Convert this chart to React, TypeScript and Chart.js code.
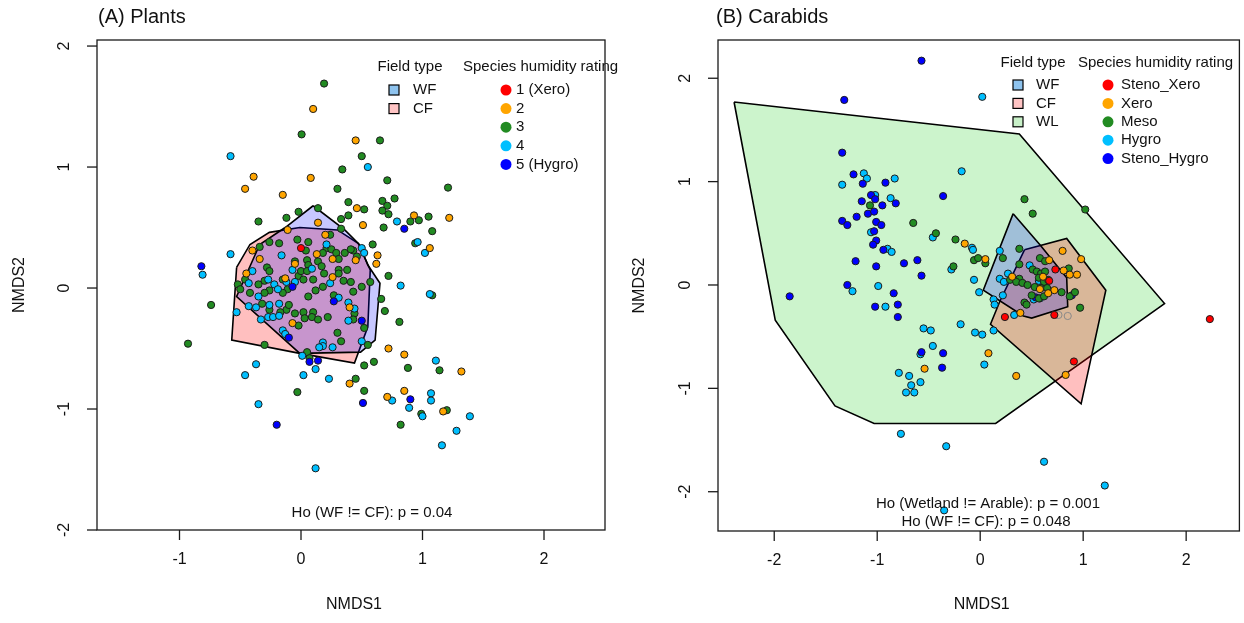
import React, { useEffect, useRef } from "react";
import { Chart, registerables } from "chart.js";

Chart.register(...registerables);

type P = [number, number];

// ---------- shared axis / legend text ----------
const yTicks = [-2, -1, 0, 1, 2];
const plantsXTicks = [-1, 0, 1, 2];
const carabXTicks = [-2, -1, 0, 1, 2];
const plantsHumidityLabels = ["1 (Xero)", "2", "3", "4", "5 (Hygro)"];
const carabHumidityLabels = ["Steno_Xero", "Xero", "Meso", "Hygro", "Steno_Hygro"];
const humidityColors = ["#FF0000", "#FFA500", "#228B22", "#00BFFF", "#0000FF"];
const plantsFieldLabels = ["WF", "CF"];
const carabFieldLabels = ["WF", "CF", "WL"];

// ---------- (A) Plants ----------
const plantsR1: P[] = [[0.0, 0.33]];
const plantsR2: P[] = [
  [0.1, 1.48], [0.45, 1.22], [-0.39, 0.92], [0.08, 0.91], [-0.46, 0.82], [-0.15, 0.77], [0.46, 0.66],
  [0.14, 0.54], [0.51, 0.52], [0.93, 0.6], [1.22, 0.58], [-0.11, 0.48], [0.2, 0.44], [1.06, 0.33],
  [0.63, 0.27], [0.62, 0.2], [-0.4, 0.31], [0.13, 0.28], [0.26, 0.24], [0.45, 0.23], [-0.34, 0.24],
  [-0.05, 0.2], [-0.45, 0.12], [0.26, 0.09], [-0.13, 0.08], [0.4, -0.16], [-0.07, -0.29], [0.4, -0.79],
  [0.72, -0.5], [0.85, -0.55], [1.32, -0.69], [0.71, -0.9], [0.85, -0.85], [1.17, -1.02],
];
const plantsR3: P[] = [
  [0.19, 1.69], [0.005, 1.27], [0.65, 1.22], [0.5, 1.09], [0.34, 0.98], [0.71, 0.89], [0.3, 0.82],
  [1.21, 0.83], [0.39, 0.71], [0.77, 0.74], [0.52, 0.65], [0.67, 0.72], [0.71, 0.68], [0.67, 0.64],
  [0.72, 0.61], [0.14, 0.66], [-0.02, 0.63], [-0.12, 0.58], [-0.35, 0.55], [0.39, 0.6], [0.33, 0.57],
  [0.97, 0.56], [0.9, 0.55], [1.05, 0.59], [1.08, 0.47], [0.68, 0.5], [0.33, 0.49], [0.24, 0.44],
  [0.94, 0.37], [0.59, 0.36], [0.72, 0.1], [1.08, -0.06], [0.43, 0.31],
  [-0.26, 0.38], [-0.18, 0.37], [-0.34, 0.34], [0.06, 0.38], [0.04, 0.31], [-0.03, 0.4], [0.21, 0.33],
  [0.25, 0.32], [0.18, 0.29], [0.29, 0.29], [0.36, 0.29], [0.41, 0.32], [0.31, 0.24], [-0.28, 0.17],
  [-0.26, 0.14], [-0.05, 0.22], [0.05, 0.23], [0.06, 0.19], [0.14, 0.22], [0.17, 0.18], [0.31, 0.15],
  [0.38, 0.15], [0.46, 0.26], [-0.52, 0.03], [-0.46, 0.07], [-0.35, 0.03], [-0.3, 0.06], [-0.15, 0.07],
  [-0.11, -0.01], [-0.02, 0.1], [0.02, 0.07], [0.0, 0.14], [0.1, 0.07], [0.05, 0.14], [0.19, 0.12],
  [0.31, 0.12], [0.35, 0.06], [0.41, 0.05], [0.5, 0.01], [0.43, -0.03], [0.57, 0.05], [0.18, 0.01],
  [0.27, -0.06], [0.12, -0.02], [0.06, -0.07], [-0.15, -0.04], [-0.26, -0.02], [-0.3, -0.04],
  [-0.42, -0.04], [-0.5, -0.01],
  [-0.32, -0.13], [-0.26, -0.18], [-0.12, -0.18], [-0.1, -0.14], [-0.17, -0.2], [-0.05, -0.21],
  [0.02, -0.2], [0.1, -0.2], [0.03, -0.25], [0.09, -0.24], [0.14, -0.26], [0.22, -0.24], [0.44, -0.21],
  [0.43, -0.26], [0.52, -0.33], [-0.02, -0.31], [0.3, -0.37], [0.33, -0.44], [0.55, -0.47], [0.05, -0.53],
  [0.07, -0.58], [-0.74, -0.14], [-0.93, -0.46], [-0.3, -0.47], [-0.03, -0.86], [0.45, -0.75],
  [0.52, -0.64], [0.6, -0.61], [0.52, -0.85], [0.88, -0.66], [1.14, -0.68], [0.99, -1.04], [0.82, -1.13],
  [1.2, -1.01], [0.66, -0.09], [0.69, -0.19], [0.81, -0.28],
];
const plantsR4: P[] = [
  [-0.58, 1.09], [0.55, 1.0], [0.79, 0.55], [0.96, 0.38], [1.02, 0.29], [0.82, 0.02], [1.06, -0.05],
  [-0.58, 0.28], [-0.81, 0.11], [0.5, 0.33], [-0.16, 0.27], [0.21, 0.36], [0.52, 0.29], [0.09, 0.16],
  [-0.4, 0.14], [-0.43, 0.04], [-0.27, 0.07], [-0.22, 0.03], [-0.12, 0.05], [-0.05, 0.05], [-0.07, 0.15],
  [0.24, 0.04], [0.31, -0.08], [-0.19, -0.01], [-0.35, -0.07],
  [-0.43, -0.15], [-0.37, -0.16], [-0.26, -0.14], [-0.18, -0.13], [-0.27, -0.24], [-0.23, -0.24],
  [-0.33, -0.26], [-0.18, -0.23], [0.39, -0.12], [0.44, -0.17], [0.39, -0.27], [-0.15, -0.35],
  [-0.13, -0.38], [0.18, -0.45], [0.18, -0.48], [0.15, -0.49], [0.26, -0.49], [0.5, -0.44], [0.01, -0.56],
  [-0.53, -0.2], [-0.37, -0.63], [-0.46, -0.72], [-0.35, -0.96], [0.12, -1.49], [0.02, -0.72],
  [0.12, -0.67], [0.23, -0.75], [1.11, -0.6], [0.75, -0.93], [0.89, -0.99], [1.07, -0.87], [1.07, -0.93],
  [1.0, -1.06], [1.28, -1.18], [1.16, -1.3], [1.39, -1.06],
];
const plantsR5: P[] = [
  [0.85, 0.49], [-0.82, 0.18], [-0.07, 0.01], [0.5, -0.27], [-0.1, -0.41], [0.07, -0.61], [0.14, -0.6],
  [-0.2, -1.13], [0.51, -0.95], [0.9, -0.92], [0.27, -0.11],
];
const plantsHullWF: P[] = [
  [0.1, 0.68], [0.36, 0.48], [0.48, 0.36], [0.55, 0.19], [0.65, 0.04], [0.61, -0.43], [0.49, -0.53],
  [-0.01, -0.54], [-0.53, -0.07], [-0.34, 0.36], [-0.13, 0.5],
];
const plantsHullCF: P[] = [
  [-0.53, 0.17], [-0.42, 0.36], [-0.26, 0.46], [-0.01, 0.5], [0.3, 0.48], [0.47, 0.37], [0.57, 0.15],
  [0.55, -0.32], [0.44, -0.62], [-0.01, -0.54], [-0.57, -0.43],
];

// ---------- (B) Carabids ----------
const carabStenoXero: P[] = [[0.73, 0.15], [0.67, 0.04], [0.24, -0.31], [0.72, -0.29], [0.91, -0.74], [2.23, -0.33]];
const carabXero: P[] = [
  [-0.15, 0.4], [0.05, 0.25], [0.08, -0.66], [-0.54, -0.81], [0.8, 0.33], [0.67, 0.24], [0.81, 0.14],
  [0.87, 0.1], [0.94, 0.1], [0.98, 0.25], [0.31, 0.08], [0.61, 0.08], [0.58, -0.04], [0.72, -0.05],
  [0.66, -0.08], [0.39, -0.27], [0.83, -0.87], [0.35, -0.88],
];
const carabMeso: P[] = [
  [-1.07, 0.77], [-0.65, 0.6], [-0.43, 0.5], [-0.24, 0.44], [-0.26, 0.18], [-0.06, 0.24], [-0.02, 0.26],
  [0.05, 0.21], [0.43, 0.83], [0.51, 0.69], [1.02, 0.73], [0.22, 0.26], [0.38, 0.35], [0.38, 0.2],
  [0.58, 0.26], [0.63, 0.23], [0.86, 0.16], [0.29, 0.05], [0.38, 0.06], [0.35, 0.03], [0.41, 0.02],
  [0.46, 0.0], [0.51, 0.15], [0.55, 0.13], [0.59, 0.11], [0.63, 0.13], [0.57, 0.07], [0.62, 0.03],
  [0.66, 0.05], [0.53, -0.02], [0.59, -0.03], [0.65, -0.03], [0.79, -0.07], [0.5, -0.1], [0.57, -0.13],
  [0.62, -0.11], [0.87, -0.11], [0.92, -0.07], [0.43, -0.17], [0.45, -0.19], [0.97, -0.22],
];
const carabHygro: P[] = [
  [-1.13, 1.08], [-1.1, 1.03], [-1.34, 0.97], [-0.83, 1.03], [-0.18, 1.1], [0.02, 1.82], [-1.02, 0.87],
  [-0.87, 0.84], [-1.06, 0.51], [-0.9, 0.35], [-0.86, 0.32], [-0.46, 0.46], [-0.08, 0.36], [-0.28, 0.15],
  [-0.06, 0.05], [0.19, 0.33], [-1.24, -0.06], [-0.99, -0.01], [-0.01, -0.07], [-0.92, -0.21],
  [-0.55, -0.42], [-0.48, -0.44], [-0.19, -0.38], [-0.05, -0.46], [0.02, -0.48], [0.13, -0.44],
  [-0.58, -0.67], [-0.46, -0.59], [0.04, -0.77], [-0.79, -0.85], [-0.69, -0.88], [-0.67, -0.97],
  [-0.58, -0.94], [-0.72, -1.04], [-0.64, -1.04], [-0.77, -1.44], [-0.33, -1.56], [-0.35, -2.18],
  [0.62, -1.71], [1.21, -1.94], [-0.07, 0.34], [0.48, 0.19], [0.27, 0.11], [0.19, 0.06], [0.23, 0.03],
  [0.57, 0.04], [0.52, -0.14], [0.58, -0.13], [0.13, -0.14], [0.14, -0.19], [0.22, -0.1], [0.33, -0.29],
];
const carabStenoHygro: P[] = [
  [-0.57, 2.17], [-1.32, 1.79], [-1.34, 1.28], [-1.23, 1.07], [-1.14, 0.98], [-0.92, 0.99], [-1.06, 0.87],
  [-1.02, 0.83], [-1.15, 0.81], [-0.95, 0.77], [-0.82, 0.79], [-0.36, 0.86], [-1.2, 0.66], [-1.09, 0.69],
  [-1.03, 0.71], [-1.34, 0.62], [-1.29, 0.58], [-1.01, 0.61], [-0.96, 0.58], [-1.03, 0.52], [-1.01, 0.43],
  [-1.04, 0.39], [-0.94, 0.34], [-1.21, 0.23], [-1.01, 0.18], [-0.74, 0.21], [-0.61, 0.24], [-0.57, 0.09],
  [-1.29, 0.0], [-0.84, -0.08], [-1.85, -0.11], [-1.02, -0.21], [-0.8, -0.19], [-0.8, -0.31],
  [-0.57, -0.65], [-0.36, -0.66], [-0.37, -0.8], [0.54, -0.12], [0.89, -0.1],
];
const carabUnrated: P[] = [[0.76, -0.29], [0.85, -0.3]];
const carabHullWF: P[] = [[0.32, 0.69], [0.58, 0.39], [0.84, 0.07], [0.85, -0.21], [0.5, -0.32], [0.42, -0.3], [0.03, -0.05]];
const carabHullCF: P[] = [[0.43, 0.34], [0.84, 0.45], [1.22, -0.05], [0.98, -1.15], [0.1, -0.38], [0.19, -0.16]];
const carabHullWL: P[] = [[-2.39, 1.77], [0.38, 1.46], [1.79, -0.18], [0.15, -1.34], [-1.03, -1.34], [-1.41, -1.17], [-1.99, -0.34]];

// ---------- helpers ----------
const FONT = '"Liberation Sans", Arial, Helvetica, sans-serif';
const fillWF = "rgba(0,0,255,0.22)";
const fillCF = "rgba(255,0,0,0.25)";
const fillWL = "rgba(0,200,0,0.2)";

const pts = (arr: P[]) => arr.map(([x, y]) => ({ x, y }));
const ring = (arr: P[]) => pts([...arr, arr[0]]);

function pointDs(label: string, arr: P[], color: string, border = "#1c1c1c") {
  return {
    type: "scatter" as const,
    label,
    data: pts(arr),
    backgroundColor: color,
    borderColor: border,
    borderWidth: 1,
    pointRadius: 3.6,
    pointHoverRadius: 3.6,
    showLine: false,
  };
}
function hullDs(label: string, arr: P[], fill: string) {
  return {
    type: "scatter" as const,
    label,
    data: ring(arr),
    showLine: true,
    fill: "shape",
    backgroundColor: fill,
    borderColor: "#000",
    borderWidth: 1.6,
    pointRadius: 0,
    pointHoverRadius: 0,
    tension: 0,
  };
}

const decoPlugin = {
  id: "deco",
  afterDraw(chart: any, _args: any, o: any) {
    const { ctx, chartArea: a, scales } = chart;
    const xs = scales.x;
    const ys = scales.y;
    ctx.save();
    ctx.strokeStyle = "#1a1a1a";
    ctx.fillStyle = "#111";
    ctx.lineWidth = 1.3;
    ctx.strokeRect(a.left, a.top, a.right - a.left, a.bottom - a.top);
    // x ticks
    ctx.font = `16px ${FONT}`;
    ctx.textAlign = "center";
    ctx.textBaseline = "middle";
    for (const v of o.xTicks) {
      const px = xs.getPixelForValue(v);
      ctx.beginPath();
      ctx.moveTo(px, a.bottom);
      ctx.lineTo(px, a.bottom + 10);
      ctx.stroke();
      ctx.fillText(String(v), px, a.bottom + 30);
    }
    for (const v of o.yTicks) {
      const py = ys.getPixelForValue(v);
      ctx.beginPath();
      ctx.moveTo(a.left, py);
      ctx.lineTo(a.left - 10, py);
      ctx.stroke();
      ctx.save();
      ctx.translate(a.left - 32, py);
      ctx.rotate(-Math.PI / 2);
      ctx.fillText(String(v), 0, 0);
      ctx.restore();
    }
    // axis titles
    ctx.fillText(o.xLabel, (a.left + a.right) / 2 + 3, o.xLabelY);
    ctx.save();
    ctx.translate(o.yLabelX, (a.top + a.bottom) / 2);
    ctx.rotate(-Math.PI / 2);
    ctx.fillText(o.yLabel, 0, 0);
    ctx.restore();
    // title
    ctx.font = `20px ${FONT}`;
    ctx.textAlign = "left";
    ctx.fillText(o.title, o.titleX, o.titleY);
    // notes
    ctx.font = `15px ${FONT}`;
    ctx.textAlign = "center";
    for (const n of o.notes) ctx.fillText(n.text, n.x, n.y);
    // legend: field type
    const L = o.legend;
    ctx.fillText("Field type", L.fieldTitleX, L.titleY);
    ctx.textAlign = "left";
    L.fieldLabels.forEach((lab: string, i: number) => {
      const cy = L.itemY0 + i * L.itemStep;
      ctx.fillStyle = L.fieldColors[i];
      ctx.fillRect(L.boxX - 5, cy - 5, 10, 10);
      ctx.strokeStyle = "#000";
      ctx.lineWidth = 1.2;
      ctx.strokeRect(L.boxX - 5, cy - 5, 10, 10);
      ctx.fillStyle = "#111";
      ctx.fillText(lab, L.fieldTextX, cy);
    });
    ctx.fillText("Species humidity rating", L.humTitleX, L.titleY);
    L.humLabels.forEach((lab: string, i: number) => {
      const cy = L.itemY0 + i * L.itemStep;
      ctx.fillStyle = humidityColors[i];
      ctx.beginPath();
      ctx.arc(L.dotX, cy, 5.5, 0, Math.PI * 2);
      ctx.fill();
      ctx.fillStyle = "#111";
      ctx.fillText(lab, L.humTextX, cy);
    });
    ctx.restore();
  },
};

function baseOptions(xMin: number, xMax: number, yMin: number, yMax: number, pad: any, deco: any) {
  return {
    responsive: false,
    animation: false as const,
    devicePixelRatio: 1,
    events: [] as any[],
    layout: { padding: pad },
    scales: {
      x: { type: "linear" as const, min: xMin, max: xMax, display: false },
      y: { type: "linear" as const, min: yMin, max: yMax, display: false },
    },
    plugins: { legend: { display: false }, tooltip: { enabled: false }, deco },
  };
}

function plantsConfig(): any {
  return {
    type: "scatter",
    data: {
      datasets: [
        pointDs("1 (Xero)", plantsR1, humidityColors[0]),
        pointDs("5 (Hygro)", plantsR5, humidityColors[4]),
        pointDs("2", plantsR2, humidityColors[1]),
        pointDs("4", plantsR4, humidityColors[3]),
        pointDs("3", plantsR3, humidityColors[2]),
        hullDs("WF", plantsHullWF, fillWF),
        hullDs("CF", plantsHullCF, fillCF),
      ],
    },
    options: baseOptions(-1.679, 2.502, -2.0, 2.05, { left: 97, right: 17, top: 40, bottom: 93 }, {
      title: "(A) Plants", titleX: 98, titleY: 17,
      xTicks: plantsXTicks, yTicks, xLabel: "NMDS1", yLabel: "NMDS2", xLabelY: 605, yLabelX: 20,
      notes: [{ text: "Ho (WF != CF): p = 0.04", x: 372, y: 513 }],
      legend: {
        titleY: 67, fieldTitleX: 410, boxX: 394, fieldTextX: 413, itemY0: 90, itemStep: 18.6,
        fieldLabels: plantsFieldLabels, fieldColors: ["#8EC3EE", "#FFC4C4"],
        humTitleX: 463, dotX: 506, humTextX: 516, humLabels: plantsHumidityLabels,
      },
    }),
    plugins: [decoPlugin],
  };
}

function carabConfig(): any {
  return {
    type: "scatter",
    data: {
      datasets: [
        pointDs("Steno_Xero", carabStenoXero, humidityColors[0]),
        pointDs("unrated", carabUnrated, "rgba(0,0,0,0)", "#888"),
        pointDs("Xero", carabXero, humidityColors[1]),
        pointDs("Meso", carabMeso, humidityColors[2]),
        pointDs("Steno_Hygro", carabStenoHygro, humidityColors[4]),
        pointDs("Hygro", carabHygro, humidityColors[3]),
        hullDs("WF", carabHullWF, fillWF),
        hullDs("CF", carabHullCF, fillCF),
        hullDs("WL", carabHullWL, fillWL),
      ],
    },
    options: baseOptions(-2.546, 2.517, -2.38, 2.37, { left: 96, right: 3, top: 40, bottom: 92 }, {
      title: "(B) Carabids", titleX: 94, titleY: 17,
      xTicks: carabXTicks, yTicks, xLabel: "NMDS1", yLabel: "NMDS2", xLabelY: 605, yLabelX: 18,
      notes: [
        { text: "Ho (Wetland != Arable): p = 0.001", x: 366, y: 504 },
        { text: "Ho (WF != CF): p = 0.048", x: 364, y: 522 },
      ],
      legend: {
        titleY: 63, fieldTitleX: 411, boxX: 396, fieldTextX: 414, itemY0: 85, itemStep: 18.4,
        fieldLabels: carabFieldLabels, fieldColors: ["#8EC3EE", "#FFC4C4", "#C8F0C8"],
        humTitleX: 456, dotX: 486, humTextX: 499, humLabels: carabHumidityLabels,
      },
    }),
    plugins: [decoPlugin],
  };
}

function Panel({ make }: { make: () => any }) {
  const ref = useRef<HTMLCanvasElement>(null);
  useEffect(() => {
    const chart = new Chart(ref.current as HTMLCanvasElement, make());
    return () => chart.destroy();
  }, [make]);
  return <canvas ref={ref} width={622} height={623} style={{ display: "block", width: 622, height: 623 }} />;
}

export default function App() {
  return (
    <div style={{ position: "fixed", left: 0, top: 0, width: 1244, height: 623, background: "#fff", display: "flex" }}>
      <Panel make={plantsConfig} />
      <Panel make={carabConfig} />
    </div>
  );
}
